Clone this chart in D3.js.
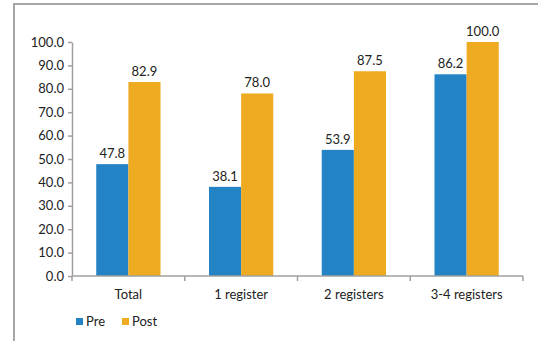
<!DOCTYPE html>
<html><head><meta charset="utf-8">
<script src="https://cdn.jsdelivr.net/npm/d3@7"></script>
<style>html,body{margin:0;padding:0;background:#fff;}svg{display:block;}</style>
</head><body><svg id="c" width="538" height="341"></svg>
<script>
const categories = ["Total", "1 register", "2 registers", "3-4 registers"];
const seriesNames = ["Pre", "Post"];
const preValues = [47.8, 38.1, 53.9, 86.2];
const postValues = [82.9, 78.0, 87.5, 100.0];
const yTicks = [0,10,20,30,40,50,60,70,80,90,100];
const colors = ["#2383C4", "#EEAB22"];

const svg = d3.select("#c");
const font = "Lato, 'Open Sans', sans-serif";
const fs = 13;
// frame
svg.append("path").attr("d","M14,341 V4 H538").attr("fill","none").attr("stroke","#a6a6a6").attr("stroke-width",2);

const x = d3.scaleBand().domain(categories).range([72, 523]).paddingInner(0.43).paddingOuter(0.215);
const xs = d3.scaleBand().domain(seriesNames).range([0, x.bandwidth()]);
const y = d3.scaleLinear().domain([0,100]).range([276, 42]);

const data = categories.map((c,i)=>({cat:c, vals:[preValues[i], postValues[i]]}));

const g = svg.append("g");
data.forEach(d=>{
  d.vals.forEach((v,j)=>{
    g.append("rect").attr("x", x(d.cat)+xs(seriesNames[j])).attr("y", y(v))
      .attr("width", xs.bandwidth()).attr("height", y(0)-y(v)).attr("fill", colors[j]);
    g.append("text").attr("x", x(d.cat)+xs(seriesNames[j])+xs.bandwidth()/2).attr("y", y(v)-6)
      .attr("text-anchor","middle").attr("font-family",font).attr("font-size",fs).attr("fill","#222")
      .text(v.toFixed(1));
  });
});

// y axis
const yAxis = d3.axisLeft(y).tickValues(yTicks).tickFormat(d=>d.toFixed(1)).tickSize(4).tickSizeOuter(0).tickPadding(4);
const ya = svg.append("g").attr("transform","translate(72,0)").call(yAxis);
ya.select(".domain").attr("stroke","#a0a0a0").attr("stroke-width",1.5);
ya.selectAll(".tick line").attr("stroke","#a0a0a0").attr("stroke-width",1.5);
ya.selectAll("text").attr("font-family",font).attr("font-size",fs).attr("fill","#222");

// x axis
const bounds = categories.map(c=>x(c)-x.step()*x.paddingInner()/2).concat([523]);
svg.append("line").attr("x1",72).attr("x2",523).attr("y1",276).attr("y2",276).attr("stroke","#a0a0a0").attr("stroke-width",1.5);
bounds.forEach(b=>svg.append("line").attr("x1",b).attr("x2",b).attr("y1",276).attr("y2",281).attr("stroke","#a0a0a0").attr("stroke-width",1.5));
categories.forEach(c=>svg.append("text").attr("x", x(c)+x.bandwidth()/2).attr("y",299)
  .attr("text-anchor","middle").attr("font-family",font).attr("font-size",fs).attr("fill","#222").text(c));

// legend
const legX = [76, 122];
seriesNames.forEach((s,j)=>{
  svg.append("rect").attr("x",legX[j]).attr("y",318).attr("width",7).attr("height",7).attr("fill",colors[j]);
  svg.append("text").attr("x",legX[j]+10).attr("y",326).attr("font-family",font).attr("font-size",fs).attr("fill","#222").text(s);
});
</script></body></html>
